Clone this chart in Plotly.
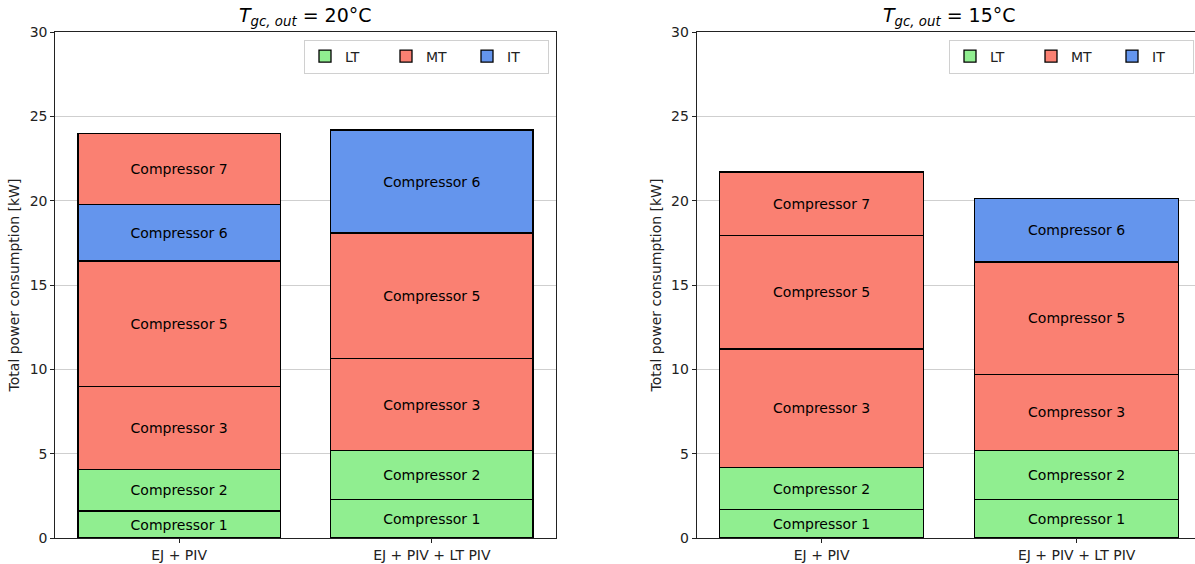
import plotly.graph_objects as go

categories = ["EJ + PIV", "EJ + PIV + LT PIV"]
compressor_names = ["Compressor 1", "Compressor 2", "Compressor 3",
                    "Compressor 5", "Compressor 6", "Compressor 7"]
compressor_groups = ["LT", "LT", "MT", "MT", "IT", "MT"]

# T_gc,out = 20°C (kW)
c1_20 = [1.60, 2.27]
c2_20 = [2.45, 2.93]
c3_20 = [4.95, 5.43]
c5_20 = [7.43, 7.45]
c6_20 = [3.33, 6.11]
c7_20 = [4.24, None]

# T_gc,out = 15°C (kW)
c1_15 = [1.70, 2.27]
c2_15 = [2.47, 2.93]
c3_15 = [7.03, 4.50]
c5_15 = [6.75, 6.67]
c6_15 = [None, 3.75]
c7_15 = [3.75, None]

titles = ["<i>T</i><sub><i>gc, out</i></sub> = 20°C",
          "<i>T</i><sub><i>gc, out</i></sub> = 15°C"]
group_colors = {"LT": "#90EE90", "MT": "#FA8072", "IT": "#6495ED"}

FONT = "DejaVu Sans"
W, H = 1195, 564
top_px, bot_px = 32, 538

fig = go.Figure()

panels = [
    ([c1_20, c2_20, c3_20, c5_20, c6_20, c7_20], "x", "y", "legend"),
    ([c1_15, c2_15, c3_15, c5_15, c6_15, c7_15], "x2", "y2", "legend2"),
]

for series, xa, ya, lg in panels:
    shown = set()
    for name, grp, vals in zip(compressor_names, compressor_groups, series):
        show = grp not in shown
        shown.add(grp)
        xs = [c for c, v in zip(categories, vals) if v is not None]
        ys = [v for v in vals if v is not None]
        fig.add_trace(go.Bar(
            x=xs, y=ys,
            xaxis=xa, yaxis=ya,
            name=grp, legend=lg, legendgroup=grp + xa,
            showlegend=show,
            width=0.8,
            marker=dict(color=group_colors[grp], line=dict(color="black", width=1.3)),
            text=[name] * len(ys),
            textposition="inside", insidetextanchor="middle", textangle=0,
            insidetextfont=dict(color="black", size=14, family=FONT),
            constraintext="none",
            hoverinfo="skip",
        ))

x1_dom = [55.3 / W, 555.7 / W]
x2_dom = [696.7 / W, 1.0]

axis_common = dict(showline=True, linecolor="#222", linewidth=1, ticks="outside",
                   ticklen=4, tickcolor="#222", tickfont=dict(size=14, family=FONT, color="#222"))

legend_common = dict(orientation="h", xanchor="right",
                     y=1 - (39.5 - top_px) / (bot_px - top_px), yanchor="top",
                     bgcolor="rgba(255,255,255,0.85)", bordercolor="#d0d0d0", borderwidth=1,
                     font=dict(size=14, family=FONT, color="#222"), entrywidth=36,
                     entrywidthmode="pixels", traceorder="normal", itemwidth=30)

fig.update_layout(
    width=W, height=H,
    margin=dict(l=0, r=0, t=top_px, b=H - bot_px),
    paper_bgcolor="white", plot_bgcolor="white",
    barmode="stack",
    font=dict(family=FONT, size=14, color="#222"),
    xaxis=dict(domain=x1_dom, anchor="y", range=[-0.49, 1.49], mirror=True, showgrid=False, **axis_common),
    yaxis=dict(domain=[0, 1], anchor="x", range=[0, 30], dtick=5, mirror=True,
               showgrid=True, gridcolor="#cfcfcf", gridwidth=1, zeroline=False,
               title=dict(text="Total power consumption [kW]", font=dict(size=14, family=FONT), standoff=6),
               **axis_common),
    xaxis2=dict(domain=x2_dom, anchor="y2", range=[-0.49, -0.49 + (W - 696.7) / 255.0], mirror=True,
                showgrid=False, **axis_common),
    yaxis2=dict(domain=[0, 1], anchor="x2", range=[0, 30], dtick=5, mirror=False,
                showgrid=True, gridcolor="#cfcfcf", gridwidth=1, zeroline=False,
                title=dict(text="Total power consumption [kW]", font=dict(size=14, family=FONT), standoff=6),
                **axis_common),
    legend=dict(x=549 / W, **legend_common),
    legend2=dict(x=1194 / W, **legend_common),
    showlegend=True,
)

for t, cx_px in zip(titles, [(55.3 + 555.7) / 2, (696.7 + 1202) / 2]):
    fig.add_annotation(text=t, x=cx_px / W, y=1 + (top_px - 17) / (bot_px - top_px),
                       xref="paper", yref="paper", xanchor="center", yanchor="middle",
                       showarrow=False, font=dict(size=19, family=FONT, color="black"))

fig.write_html("out.html")
